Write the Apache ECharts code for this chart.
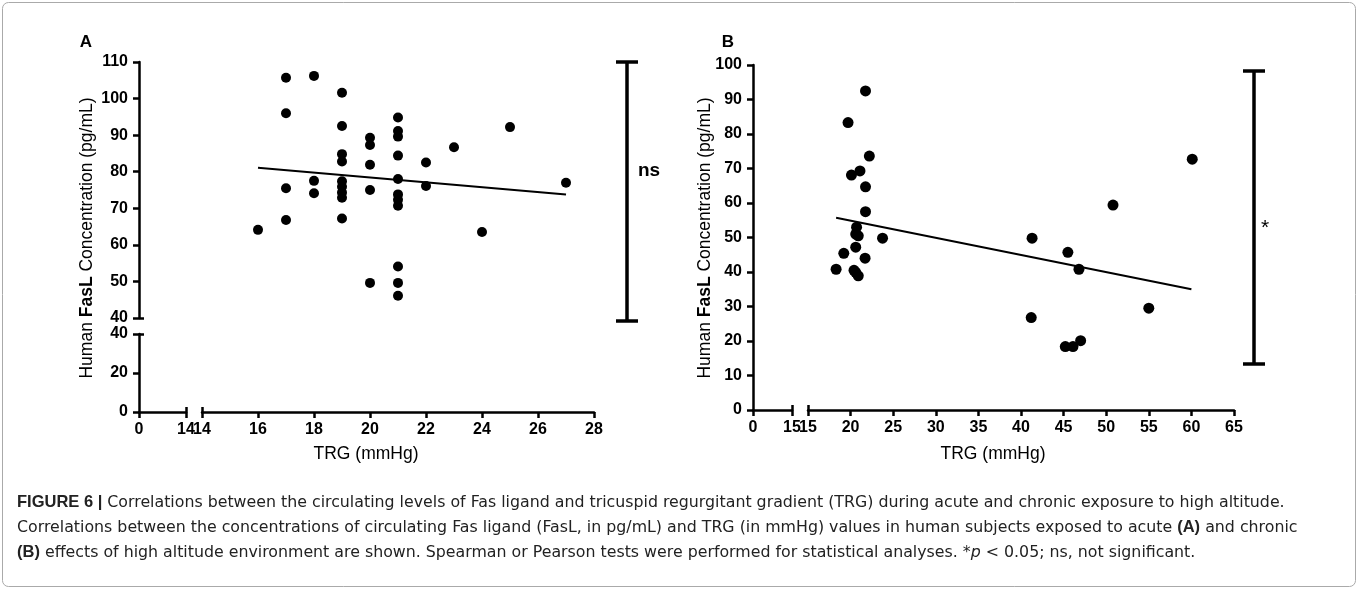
<!DOCTYPE html>
<html><head><meta charset="utf-8">
<script src="https://cdn.jsdelivr.net/npm/echarts@6/dist/echarts.min.js"></script>
<style>html,body{margin:0;padding:0;background:#fff}#c{width:1358px;height:589px}</style>
</head><body><div id="c"></div>
<script>
// ---------- data ----------
// Panel A (acute): TRG (mmHg) vs FasL (pg/mL)
const aTRG  = [16, 17,17,17,17, 18,18,18, 19,19,19,19,19,19,19,19,19, 20,20,20,20,20, 21,21,21,21,21,21,21,21,21,21,21, 22,22, 23, 24, 25, 27];
const aFasL = [64.1, 105.7,96.0,75.5,66.8, 106.2,77.5,74.1, 101.6,92.5,84.8,82.8,77.4,75.9,74.3,72.9,67.2, 89.3,87.3,81.9,75.0,49.6, 94.8,91.1,89.6,84.4,78.0,73.8,72.3,70.7,54.1,49.6,46.1, 82.5,76.1, 86.7, 63.5, 92.2, 77.0];
const aFitX = [16, 27];
const aFitY = [81.1, 73.8];
// Panel B (chronic)
const bTRG  = [21.75,19.7,22.2,20.1,21.1,21.75,21.75,20.7,20.6,20.9,23.75,20.6,19.2,21.7,18.3,20.4,20.6,20.9,41.3,45.5,46.8,41.2,55.0,45.2,46.1,47.0,60.1,50.8];
const bFasL = [92.5,83.3,73.6,68.1,69.3,64.7,57.5,53.0,51.0,50.5,49.8,47.2,45.4,44.0,40.8,40.5,39.9,38.9,49.8,45.7,40.8,26.8,29.5,18.4,18.4,20.1,72.7,59.4];
const bFitX = [18.3, 60];
const bFitY = [55.7, 35.0];
// axis ticks
const aXTicks = {min: 14, max: 28, interval: 2};
const aXLow   = {min: 0, max: 14, interval: 14};
const aYTicks = {min: 40, max: 110, interval: 10};
const aYLow   = {min: 0, max: 40, interval: 20};
const bXTicks = {min: 15, max: 65, interval: 5};
const bXLow   = {min: 0, max: 15, interval: 15};
const bYTicks = {min: 0, max: 100, interval: 10};
const xTitle = 'TRG (mmHg)';
const captionLines = [
  '{b|FIGURE 6 |} Correlations between the circulating levels of Fas ligand and tricuspid regurgitant gradient (TRG) during acute and chronic exposure to high altitude.',
  'Correlations between the concentrations of circulating Fas ligand (FasL, in pg/mL) and TRG (in mmHg) values in human subjects exposed to acute {b|(A)} and chronic',
  '{b|(B)} effects of high altitude environment are shown. Spearman or Pearson tests were performed for statistical analyses. *{i|p} < 0.05; ns, not significant.'
];

// ---------- chart ----------
const FONT = '"Liberation Sans", Arial, Helvetica, sans-serif';
const CAPFONT = '"DejaVu Sans", "Liberation Sans", sans-serif';
const pts = (xs, ys) => xs.map((x, i) => [x, ys[i]]);
const axLine = {show: true, lineStyle: {color: '#000', width: 2.5}};
const tick = {show: true, length: 6, lineStyle: {color: '#000', width: 2.5}};
const lbl = (m) => ({color: '#000', fontWeight: 'bold', fontSize: 16, fontFamily: FONT, margin: m});
function mainAxis(grid, r, pos, off) {
  return {type: 'value', gridIndex: grid, position: pos, offset: off || 0, min: r.min, max: r.max, interval: r.interval,
    axisLine: axLine, axisTick: tick, axisLabel: lbl(pos === 'left' ? 11 : 10), splitLine: {show: false}};
}
function endTick(grid, r, pos, off, v) {
  return {type: 'value', gridIndex: grid, position: pos, offset: off || 0, min: r.min, max: r.max,
    axisLine: {show: false}, axisLabel: {show: false}, splitLine: {show: false},
    axisTick: {show: true, inside: true, length: 5, customValues: [v], lineStyle: {color: '#000', width: 2.5}}};
}
function hidden(grid, r) {
  return {type: 'value', gridIndex: grid, min: r.min, max: r.max, show: false};
}
const chart = echarts.init(document.getElementById('c'), null, {renderer: 'canvas'});
const caption = captionLines.map((t, i) => ({
  type: 'text', left: 17, top: 494 + i * 25,
  style: {text: t, fontSize: 15.8, fontFamily: CAPFONT, fill: '#222',
    rich: {b: {fontWeight: 'bold', fontSize: 16.5, fontFamily: FONT, fill: '#222'},
           i: {fontStyle: 'italic', fontSize: 15.8, fontFamily: CAPFONT, fill: '#222'}}}
}));
const yTitle = (x) => ({
  type: 'text', x: x, y: 238, rotation: Math.PI / 2,
  style: {text: 'Human {b|FasL} Concentration (pg/mL)', fontSize: 17.5, fontFamily: FONT, fill: '#000',
    align: 'center', verticalAlign: 'middle', rich: {b: {fontWeight: 'bold', fontSize: 17.5, fontFamily: FONT, fill: '#000'}}}
});
const xTitleG = (x) => ({type: 'text', x: x, y: 454, style: {text: xTitle, fontSize: 17.5, fontFamily: FONT, fill: '#000', align: 'center', verticalAlign: 'middle'}});
const bar = (x, y1, y2) => ([
  {type: 'line', shape: {x1: x, y1: y1, x2: x, y2: y2}, style: {stroke: '#000', lineWidth: 3.5}},
  {type: 'line', shape: {x1: x - 11, y1: y1, x2: x + 11, y2: y1}, style: {stroke: '#000', lineWidth: 3.5}},
  {type: 'line', shape: {x1: x - 11, y1: y2, x2: x + 11, y2: y2}, style: {stroke: '#000', lineWidth: 3.5}}
]);
chart.setOption({
  backgroundColor: '#fff',
  animation: false,
  grid: [
    {left: 202, top: 62, width: 392, height: 256},
    {left: 139, top: 334, width: 47, height: 78},
    {left: 808, top: 65, width: 426, height: 345},
    {left: 753, top: 65, width: 39, height: 345}
  ],
  xAxis: [
    mainAxis(0, aXTicks, 'bottom', 94),
    endTick(0, aXTicks, 'bottom', 94, 14),
    mainAxis(1, aXLow, 'bottom'),
    endTick(1, aXLow, 'bottom', 0, 14),
    mainAxis(2, bXTicks, 'bottom'),
    endTick(2, bXTicks, 'bottom', 0, 15),
    mainAxis(3, bXLow, 'bottom'),
    endTick(3, bXLow, 'bottom', 0, 15)
  ],
  yAxis: [
    mainAxis(0, aYTicks, 'left', 63),
    endTick(0, aYTicks, 'left', 63, 40),
    mainAxis(1, aYLow, 'left'),
    endTick(1, aYLow, 'left', 0, 40),
    mainAxis(2, bYTicks, 'left', 55),
    hidden(3, bYTicks)
  ],
  series: [
    {type: 'scatter', xAxisIndex: 0, yAxisIndex: 0, data: pts(aTRG, aFasL), symbol: 'circle', symbolSize: 10,
      itemStyle: {color: '#000', opacity: 1}, emphasis: {disabled: true}},
    {type: 'line', xAxisIndex: 0, yAxisIndex: 0, data: pts(aFitX, aFitY), symbol: 'none',
      lineStyle: {color: '#000', width: 2}},
    {type: 'scatter', xAxisIndex: 4, yAxisIndex: 4, data: pts(bTRG, bFasL), symbol: 'circle', symbolSize: 11,
      itemStyle: {color: '#000', opacity: 1}, emphasis: {disabled: true}},
    {type: 'line', xAxisIndex: 4, yAxisIndex: 4, data: pts(bFitX, bFitY), symbol: 'none',
      lineStyle: {color: '#000', width: 2}}
  ],
  graphic: [
    {type: 'rect', shape: {x: 2.5, y: 2.5, width: 1353, height: 584, r: 6}, style: {fill: 'none', stroke: '#aaa', lineWidth: 1}},
    {type: 'text', x: 86, y: 42, style: {text: 'A', fontSize: 17, fontWeight: 'bold', fontFamily: FONT, fill: '#000', align: 'center', verticalAlign: 'middle'}},
    {type: 'text', x: 728, y: 42, style: {text: 'B', fontSize: 17, fontWeight: 'bold', fontFamily: FONT, fill: '#000', align: 'center', verticalAlign: 'middle'}},
    yTitle(87), yTitle(705), xTitleG(366), xTitleG(993),
    ...bar(627, 62, 321),
    {type: 'text', x: 649, y: 171, style: {text: 'ns', fontSize: 19, fontWeight: 'bold', fontFamily: FONT, fill: '#000', align: 'center', verticalAlign: 'middle'}},
    ...bar(1254, 71, 364),
    {type: 'text', x: 1265, y: 228, style: {text: '*', fontSize: 21, fontFamily: FONT, fill: '#000', align: 'center', verticalAlign: 'middle'}},
    ...caption
  ]
});
</script></body></html>
